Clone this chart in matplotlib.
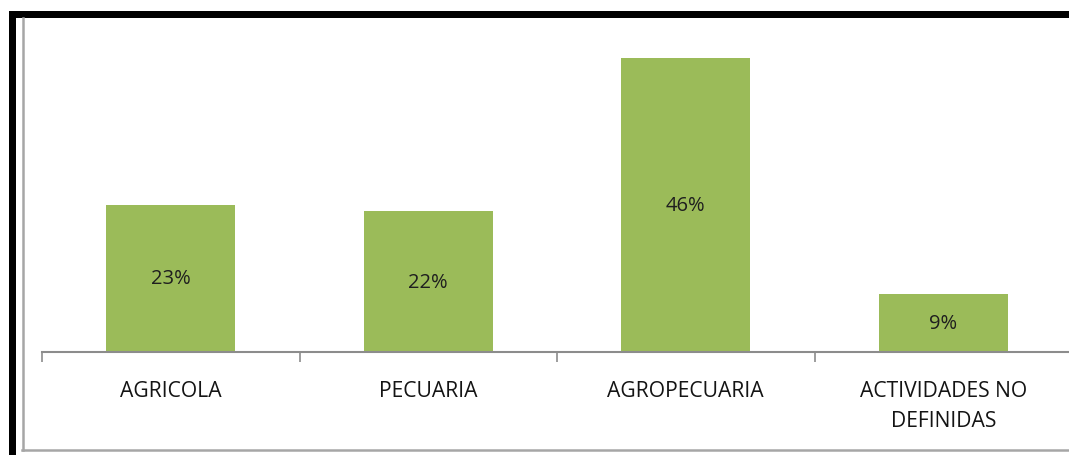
import matplotlib.pyplot as plt
from matplotlib.patches import Rectangle
from matplotlib.lines import Line2D

categories = ["AGRICOLA", "PECUARIA", "AGROPECUARIA", "ACTIVIDADES NO\nDEFINIDAS"]
values = [23, 22, 46, 9]
labels = ["23%", "22%", "46%", "9%"]

W, H = 1069, 456
fig = plt.figure(figsize=(W / 100, H / 100), dpi=100)
plt.rcParams['font.family'] = ['Open Sans', 'DejaVu Sans']

# axes: baseline at y=353px, categories span x 42..1072px
ax = fig.add_axes([42 / W, (H - 353) / H, 1030 / W, 320 / H])
x = range(len(categories))
ax.bar(x, values, width=0.5, color="#9BBB59", zorder=2)
for i, v in enumerate(values):
    ax.text(i, v / 2, labels[i], ha="center", va="center", fontsize=14.5, color="#1f1f1f")

ax.set_xlim(-0.5, 3.5)
ax.set_ylim(0, 50)
ax.set_yticks([])
ax.set_xticks([-0.5, 0.5, 1.5, 2.5, 3.5])
ax.set_xticklabels([])
ax.tick_params(axis="x", direction="out", length=7, width=1.2, color="#8c8c8c")
ax.set_xticks(list(x), minor=True)
ax.set_xticklabels(categories, minor=True, fontsize=15.2, color="#141414", linespacing=1.6)
ax.tick_params(axis="x", which="minor", length=0, pad=20)
for s in ["top", "right", "left"]:
    ax.spines[s].set_visible(False)
ax.spines["bottom"].set_color("#8c8c8c")
ax.spines["bottom"].set_linewidth(1.5)


def fx(px):
    return px / W


def fy(py):
    return 1 - py / H


# black frame at top and left
fig.add_artist(Rectangle((fx(9), fy(19)), fx(1069 - 9), 7 / H, transform=fig.transFigure,
                         color="black", lw=0))
fig.add_artist(Rectangle((fx(9), 0), fx(7), fy(12), transform=fig.transFigure,
                         color="black", lw=0))
# gray inner border
fig.add_artist(Line2D([fx(22.5), fx(22.5)], [fy(19), fy(451)], transform=fig.transFigure,
                      color="#a6a6a6", lw=1.8))
fig.add_artist(Line2D([fx(22), fx(1069)], [fy(451), fy(451)], transform=fig.transFigure,
                      color="#a6a6a6", lw=1.8))

fig.savefig("out.png", dpi=100)
